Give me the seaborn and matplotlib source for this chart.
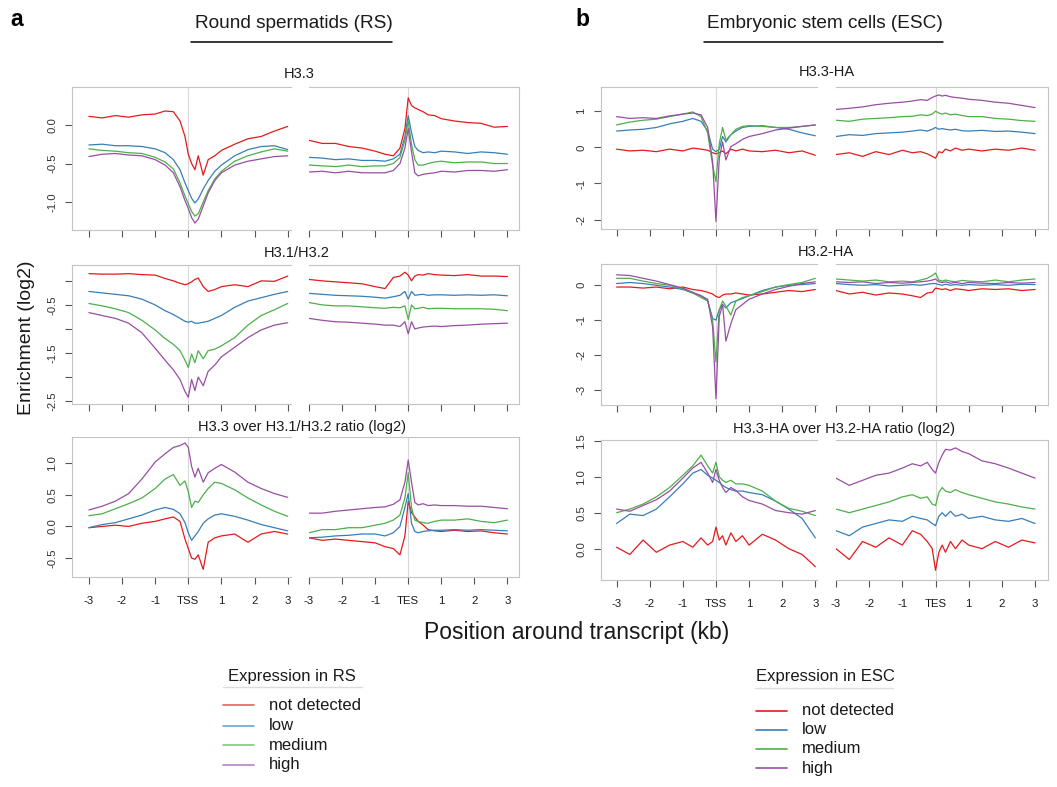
import matplotlib
matplotlib.use("Agg")
import matplotlib.pyplot as plt
from matplotlib.lines import Line2D
import pandas as pd
import seaborn as sns

# ---------------- data (log2 enrichment) ----------------
POS = [-3.0, -2.6, -2.2, -1.8, -1.4, -1.0, -0.7, -0.45, -0.25, -0.1, 0.0, 0.1,
       0.2, 0.3, 0.45, 0.6, 0.8, 1.0, 1.4, 1.8, 2.2, 2.6, 3.0]
GROUPS = ["not detected", "low", "medium", "high"]
COLORS = ["#E41A1C", "#377EB8", "#4DAF4A", "#984EA3"]
TSS_LABELS = ["-3", "-2", "-1", "TSS", "1", "2", "3"]
TES_LABELS = ["-3", "-2", "-1", "TES", "1", "2", "3"]

RS_H33_TSS = {
    "not detected": [0.11, 0.09, 0.12, 0.10, 0.13, 0.14, 0.18, 0.17, 0.05, -0.15, -0.38, -0.50, -0.58, -0.40, -0.65, -0.45, -0.40, -0.33, -0.25, -0.18, -0.15, -0.08, -0.02],
    "low": [-0.26, -0.25, -0.27, -0.27, -0.28, -0.31, -0.36, -0.45, -0.58, -0.75, -0.85, -0.95, -1.01, -0.96, -0.83, -0.72, -0.60, -0.52, -0.40, -0.32, -0.28, -0.27, -0.32],
    "medium": [-0.31, -0.33, -0.34, -0.36, -0.37, -0.42, -0.48, -0.57, -0.75, -0.92, -1.02, -1.12, -1.18, -1.15, -1.00, -0.85, -0.70, -0.60, -0.47, -0.40, -0.35, -0.31, -0.34],
    "high": [-0.41, -0.38, -0.37, -0.39, -0.40, -0.45, -0.52, -0.62, -0.80, -0.98, -1.08, -1.20, -1.27, -1.22, -1.05, -0.88, -0.72, -0.62, -0.52, -0.47, -0.44, -0.41, -0.40],
}
RS_H33_TES = {
    "not detected": [-0.20, -0.24, -0.24, -0.28, -0.30, -0.34, -0.38, -0.40, -0.30, -0.05, 0.35, 0.25, 0.22, 0.20, 0.17, 0.13, 0.12, 0.08, 0.05, 0.03, 0.02, -0.03, -0.02],
    "low": [-0.42, -0.43, -0.45, -0.44, -0.46, -0.46, -0.47, -0.44, -0.38, -0.15, 0.12, -0.10, -0.28, -0.33, -0.36, -0.35, -0.36, -0.34, -0.35, -0.37, -0.35, -0.36, -0.38],
    "medium": [-0.52, -0.53, -0.54, -0.52, -0.54, -0.53, -0.53, -0.50, -0.42, -0.20, 0.05, -0.25, -0.45, -0.52, -0.52, -0.50, -0.48, -0.47, -0.49, -0.48, -0.48, -0.50, -0.50],
    "high": [-0.61, -0.60, -0.62, -0.60, -0.62, -0.62, -0.62, -0.59, -0.50, -0.30, -0.05, -0.35, -0.62, -0.66, -0.64, -0.63, -0.62, -0.60, -0.61, -0.59, -0.59, -0.60, -0.58],
}
RS_H312_TSS = {
    "not detected": [0.15, 0.14, 0.14, 0.15, 0.13, 0.12, 0.05, 0.00, -0.05, -0.08, -0.06, -0.02, 0.03, 0.06, -0.12, -0.22, -0.18, -0.12, -0.08, -0.12, 0.00, -0.01, 0.10],
    "low": [-0.22, -0.25, -0.28, -0.31, -0.38, -0.50, -0.62, -0.70, -0.78, -0.84, -0.86, -0.84, -0.88, -0.88, -0.86, -0.84, -0.78, -0.72, -0.55, -0.42, -0.35, -0.28, -0.22],
    "medium": [-0.47, -0.52, -0.58, -0.66, -0.82, -1.02, -1.20, -1.32, -1.45, -1.65, -1.80, -1.52, -1.70, -1.45, -1.62, -1.45, -1.42, -1.35, -1.18, -0.92, -0.72, -0.60, -0.47],
    "high": [-0.66, -0.72, -0.78, -0.88, -1.08, -1.40, -1.65, -1.85, -2.05, -2.30, -2.42, -2.05, -2.28, -2.00, -2.18, -1.88, -1.75, -1.58, -1.38, -1.18, -1.02, -0.92, -0.87],
}
RS_H312_TES = {
    "not detected": [0.03, 0.00, -0.02, -0.04, -0.06, -0.12, -0.16, 0.07, 0.10, 0.18, 0.12, 0.00, 0.10, 0.13, 0.12, 0.15, 0.13, 0.12, 0.11, 0.13, 0.10, 0.10, 0.09],
    "low": [-0.26, -0.28, -0.30, -0.31, -0.32, -0.34, -0.36, -0.33, -0.30, -0.22, -0.38, -0.22, -0.30, -0.29, -0.28, -0.30, -0.29, -0.29, -0.30, -0.29, -0.30, -0.29, -0.31],
    "medium": [-0.45, -0.50, -0.52, -0.52, -0.54, -0.56, -0.57, -0.55, -0.56, -0.52, -0.80, -0.50, -0.58, -0.57, -0.55, -0.58, -0.57, -0.57, -0.58, -0.58, -0.58, -0.59, -0.62],
    "high": [-0.78, -0.82, -0.85, -0.86, -0.88, -0.90, -0.92, -0.92, -0.95, -0.85, -1.10, -0.85, -1.00, -0.98, -0.96, -0.95, -0.94, -0.95, -0.93, -0.92, -0.90, -0.89, -0.88],
}
RS_RATIO_TSS = {
    "not detected": [-0.02, 0.00, 0.02, 0.00, 0.05, 0.08, 0.12, 0.15, 0.08, -0.20, -0.35, -0.50, -0.52, -0.45, -0.68, -0.25, -0.18, -0.15, -0.12, -0.25, -0.12, -0.08, -0.12],
    "low": [-0.02, 0.03, 0.06, 0.12, 0.18, 0.26, 0.30, 0.27, 0.20, 0.06, -0.10, -0.22, -0.15, -0.08, 0.05, 0.12, 0.18, 0.20, 0.16, 0.10, 0.03, -0.02, -0.07],
    "medium": [0.17, 0.20, 0.28, 0.36, 0.45, 0.60, 0.75, 0.82, 0.65, 0.72, 0.55, 0.30, 0.40, 0.38, 0.50, 0.60, 0.70, 0.68, 0.58, 0.45, 0.34, 0.24, 0.16],
    "high": [0.26, 0.32, 0.40, 0.52, 0.75, 1.02, 1.15, 1.25, 1.28, 1.32, 1.25, 0.95, 0.78, 0.92, 0.70, 0.85, 0.92, 0.98, 0.86, 0.70, 0.60, 0.52, 0.46],
}
RS_RATIO_TES = {
    "not detected": [-0.18, -0.22, -0.20, -0.22, -0.24, -0.26, -0.32, -0.35, -0.45, -0.15, 0.40, 0.22, 0.15, 0.08, 0.02, -0.05, -0.07, -0.08, -0.06, -0.08, -0.07, -0.10, -0.12],
    "low": [-0.18, -0.17, -0.15, -0.14, -0.12, -0.12, -0.15, -0.10, 0.00, 0.30, 0.52, 0.05, -0.08, -0.10, -0.08, -0.07, -0.06, -0.06, -0.05, -0.06, -0.05, -0.06, -0.07],
    "medium": [-0.10, -0.05, -0.05, -0.02, -0.02, 0.02, 0.05, 0.10, 0.18, 0.45, 0.85, 0.30, 0.10, 0.08, 0.06, 0.05, 0.08, 0.10, 0.10, 0.12, 0.08, 0.06, 0.10],
    "high": [0.21, 0.21, 0.24, 0.26, 0.28, 0.30, 0.31, 0.35, 0.42, 0.70, 1.05, 0.70, 0.38, 0.34, 0.36, 0.33, 0.34, 0.33, 0.33, 0.32, 0.32, 0.30, 0.28],
}
ESC_H33_TSS = {
    "not detected": [-0.05, -0.10, -0.08, -0.12, -0.05, -0.10, -0.02, -0.05, -0.08, -0.15, -0.18, -0.15, -0.10, -0.18, -0.05, -0.10, -0.05, -0.10, -0.12, -0.08, -0.15, -0.10, -0.22],
    "low": [0.45, 0.48, 0.50, 0.55, 0.65, 0.72, 0.80, 0.72, 0.45, -0.05, -0.12, -0.05, 0.30, 0.15, 0.35, 0.45, 0.55, 0.58, 0.60, 0.55, 0.50, 0.40, 0.32],
    "medium": [0.62, 0.70, 0.75, 0.78, 0.85, 0.92, 0.98, 0.85, 0.40, -0.50, -0.95, 0.10, 0.55, 0.20, 0.35, 0.50, 0.58, 0.60, 0.58, 0.55, 0.55, 0.58, 0.62],
    "high": [0.85, 0.80, 0.82, 0.80, 0.87, 0.92, 0.95, 0.90, 0.55, -0.40, -2.05, -0.30, 0.15, -0.35, 0.02, 0.10, 0.22, 0.30, 0.38, 0.48, 0.53, 0.58, 0.62],
}
ESC_H33_TES = {
    "not detected": [-0.20, -0.15, -0.25, -0.12, -0.20, -0.08, -0.15, -0.12, -0.18, -0.25, -0.30, -0.12, -0.15, -0.05, -0.10, -0.02, -0.08, -0.05, -0.10, -0.05, -0.08, -0.02, -0.08],
    "low": [0.30, 0.35, 0.33, 0.38, 0.40, 0.42, 0.45, 0.48, 0.45, 0.50, 0.55, 0.50, 0.52, 0.50, 0.48, 0.50, 0.46, 0.45, 0.47, 0.44, 0.45, 0.42, 0.38],
    "medium": [0.75, 0.72, 0.78, 0.80, 0.82, 0.85, 0.86, 0.90, 0.88, 0.92, 1.00, 0.95, 0.92, 0.95, 0.90, 0.92, 0.88, 0.85, 0.85, 0.80, 0.78, 0.74, 0.72],
    "high": [1.05, 1.08, 1.12, 1.18, 1.22, 1.25, 1.28, 1.32, 1.30, 1.38, 1.42, 1.45, 1.42, 1.44, 1.40, 1.38, 1.36, 1.33, 1.30, 1.25, 1.22, 1.16, 1.10],
}
ESC_H32_TSS = {
    "not detected": [-0.05, -0.05, -0.08, -0.05, -0.10, -0.05, -0.12, -0.15, -0.20, -0.25, -0.32, -0.35, -0.28, -0.25, -0.25, -0.22, -0.25, -0.28, -0.25, -0.20, -0.15, -0.18, -0.12],
    "low": [0.05, 0.08, 0.05, 0.00, -0.05, -0.12, -0.22, -0.30, -0.45, -0.95, -1.00, -0.70, -0.55, -0.65, -0.50, -0.45, -0.38, -0.30, -0.15, -0.05, 0.00, 0.02, 0.05],
    "medium": [0.20, 0.20, 0.12, 0.05, 0.00, -0.10, -0.22, -0.35, -0.45, -1.00, -2.20, -0.70, -0.45, -0.60, -0.85, -0.45, -0.35, -0.30, -0.18, -0.05, 0.02, 0.08, 0.20],
    "high": [0.30, 0.28, 0.20, 0.12, 0.02, -0.08, -0.20, -0.30, -0.40, -1.20, -3.25, -0.90, -0.55, -1.60, -1.10, -0.70, -0.55, -0.40, -0.25, -0.12, -0.03, 0.05, 0.10],
}
ESC_H32_TES = {
    "not detected": [-0.15, -0.25, -0.20, -0.28, -0.22, -0.25, -0.30, -0.35, -0.22, -0.20, -0.08, -0.10, -0.12, -0.10, -0.15, -0.10, -0.12, -0.15, -0.10, -0.12, -0.10, -0.15, -0.12],
    "low": [0.05, 0.02, 0.00, 0.02, -0.02, 0.00, 0.02, 0.00, 0.03, 0.05, 0.05, 0.02, 0.00, 0.03, 0.00, 0.02, 0.00, 0.02, 0.00, 0.02, 0.00, 0.03, 0.02],
    "medium": [0.18, 0.15, 0.12, 0.15, 0.10, 0.12, 0.10, 0.15, 0.20, 0.28, 0.35, 0.15, 0.12, 0.15, 0.12, 0.10, 0.14, 0.12, 0.10, 0.15, 0.10, 0.15, 0.18],
    "high": [0.10, 0.08, 0.10, 0.05, 0.08, 0.06, 0.08, 0.10, 0.12, 0.15, 0.18, 0.10, 0.08, 0.10, 0.06, 0.08, 0.05, 0.08, 0.06, 0.05, 0.08, 0.06, 0.08],
}
ESC_RATIO_TSS = {
    "not detected": [0.02, -0.08, 0.12, -0.05, 0.05, 0.10, 0.02, 0.15, 0.05, 0.10, 0.30, 0.12, 0.18, 0.05, 0.22, 0.10, 0.18, 0.05, 0.20, 0.12, 0.00, -0.08, -0.25],
    "low": [0.35, 0.48, 0.46, 0.55, 0.72, 0.90, 1.05, 1.10, 1.02, 0.98, 0.95, 0.92, 0.88, 0.85, 0.82, 0.80, 0.80, 0.78, 0.75, 0.66, 0.55, 0.42, 0.15],
    "medium": [0.50, 0.55, 0.62, 0.72, 0.85, 1.02, 1.15, 1.30, 1.15, 1.05, 1.20, 1.00, 0.95, 0.92, 0.95, 0.90, 0.90, 0.88, 0.80, 0.66, 0.56, 0.52, 0.46],
    "high": [0.55, 0.52, 0.60, 0.68, 0.80, 0.98, 1.12, 1.20, 1.05, 0.92, 1.10, 0.95, 0.85, 0.78, 0.85, 0.81, 0.72, 0.67, 0.62, 0.53, 0.50, 0.48, 0.53],
}
ESC_RATIO_TES = {
    "not detected": [0.00, -0.15, 0.10, 0.02, 0.15, 0.05, 0.25, 0.20, 0.10, 0.00, -0.30, -0.05, 0.05, -0.05, 0.10, 0.00, 0.12, 0.05, 0.00, 0.10, 0.02, 0.12, 0.08],
    "low": [0.25, 0.18, 0.30, 0.35, 0.40, 0.38, 0.45, 0.42, 0.40, 0.35, 0.32, 0.45, 0.50, 0.45, 0.52, 0.45, 0.48, 0.42, 0.45, 0.40, 0.38, 0.42, 0.35],
    "medium": [0.55, 0.50, 0.55, 0.60, 0.65, 0.72, 0.75, 0.70, 0.72, 0.62, 0.60, 0.78, 0.85, 0.80, 0.78, 0.82, 0.78, 0.75, 0.70, 0.65, 0.62, 0.58, 0.55],
    "high": [0.98, 0.88, 0.95, 1.02, 1.05, 1.12, 1.18, 1.15, 1.20, 1.10, 1.05, 1.20, 1.30, 1.38, 1.37, 1.40, 1.35, 1.32, 1.22, 1.18, 1.12, 1.05, 0.98],
}

# ---------------- style ----------------
sns.set_theme(style="white")
plt.rcParams["font.family"] = ["Liberation Sans", "DejaVu Sans"]
plt.rcParams["axes.unicode_minus"] = False

W, H = 1057, 787
fig = plt.figure(figsize=(W / 100, H / 100), dpi=100)
fig.patch.set_facecolor("white")

BOX = "#c4c4c4"
TICK = "#555555"
TXT = "#1a1a1a"


def fx(px):
    return px / W


def fy(py):
    return 1 - py / H


def add_ax(x0, x1, y0, y1):
    return fig.add_axes([fx(x0), fy(y1), (x1 - x0) / W, (y1 - y0) / H])


def to_long(d):
    rows = []
    for g in GROUPS:
        for x, v in zip(POS, d[g]):
            rows.append((x, v, g))
    return pd.DataFrame(rows, columns=["pos", "value", "group"])


def draw(ax, d, xlim, ylim, side, bottom, yticks=None, ylabels=None):
    df = to_long(d)
    ax.axvline(0, color="#d8d8d8", lw=0.8, zorder=0)
    sns.lineplot(data=df, x="pos", y="value", hue="group", hue_order=GROUPS,
                 palette=COLORS, legend=False, ax=ax, lw=0.9,
                 estimator=None, errorbar=None)
    ax.set_xlabel("")
    ax.set_ylabel("")
    ax.set_xlim(*xlim)
    ax.set_ylim(*ylim)
    ax.set_facecolor("white")
    for s in ax.spines.values():
        s.set_color(BOX)
        s.set_linewidth(0.8)
    if side == "tss":
        ax.spines["right"].set_visible(False)
    else:
        ax.spines["left"].set_visible(False)
    ax.set_xticks([-3, -2, -1, 0, 1, 2, 3])
    if bottom:
        ax.set_xticklabels(TSS_LABELS if side == "tss" else TES_LABELS,
                           fontsize=8.2, color=TXT)
    else:
        ax.set_xticklabels([])
    ax.tick_params(axis="x", bottom=True, length=5.2, width=0.8, color=TICK,
                   direction="out", pad=8.5)
    if side == "tss":
        ax.set_yticks(yticks)
        ax.set_yticklabels(ylabels, rotation=90, va="center", fontsize=8.2,
                           color="#333333")
        ax.tick_params(axis="y", left=True, length=5.2, width=0.8, color=TICK,
                       direction="out", pad=5.5)
    else:
        ax.set_yticks([])
    ax.grid(False)


# panel geometry (pixels)
LX_TSS, LX_TES = (72, 291), (309, 519)
RX_TSS, RX_TES = (601, 817), (836, 1048)
LROWS = [(87, 230), (265, 404), (437, 577)]
RROWS = [(87, 229), (264, 405), (440, 580)]
L_XLIM_TSS, L_XLIM_TES = (-3.51, 3.10), (-3.0, 3.35)
R_XLIM_TSS, R_XLIM_TES = (-3.47, 3.05), (-3.0, 3.39)

left_panels = [
    (RS_H33_TSS, RS_H33_TES, (-1.36, 0.49), [0.0, -0.5, -1.0], ["0.0", "-0.5", "-1.0"]),
    (RS_H312_TSS, RS_H312_TES, (-2.56, 0.33), [0.0, -0.5, -1.0, -1.5, -2.0, -2.5],
     ["", "-0.5", "", "-1.5", "", "-2.5"]),
    (RS_RATIO_TSS, RS_RATIO_TES, (-0.80, 1.415), [1.0, 0.5, 0.0, -0.5], ["1.0", "0.5", "0.0", "-0.5"]),
]
right_panels = [
    (ESC_H33_TSS, ESC_H33_TES, (-2.26, 1.67), [1, 0, -1, -2], ["1", "0", "-1", "-2"]),
    (ESC_H32_TSS, ESC_H32_TES, (-3.43, 0.61), [0, -1, -2, -3], ["0", "-1", "-2", "-3"]),
    (ESC_RATIO_TSS, ESC_RATIO_TES, (-0.435, 1.51), [1.5, 1.0, 0.5, 0.0], ["1.5", "1.0", "0.5", "0.0"]),
]

for i, (dt, de, yl, yt, ylab) in enumerate(left_panels):
    y0, y1 = LROWS[i]
    a1 = add_ax(LX_TSS[0], LX_TSS[1], y0, y1)
    draw(a1, dt, L_XLIM_TSS, yl, "tss", i == 2, yt, ylab)
    a2 = add_ax(LX_TES[0], LX_TES[1], y0, y1)
    draw(a2, de, L_XLIM_TES, yl, "tes", i == 2)

for i, (dt, de, yl, yt, ylab) in enumerate(right_panels):
    y0, y1 = RROWS[i]
    a1 = add_ax(RX_TSS[0], RX_TSS[1], y0, y1)
    draw(a1, dt, R_XLIM_TSS, yl, "tss", i == 2, yt, ylab)
    a2 = add_ax(RX_TES[0], RX_TES[1], y0, y1)
    draw(a2, de, R_XLIM_TES, yl, "tes", i == 2)

# panel titles
titles = [("H3.3", 299, 73.5), ("H3.1/H3.2", 297, 253.5),
          ("H3.3 over H3.1/H3.2 ratio (log2)", 302, 427),
          ("H3.3-HA", 827, 72.5), ("H3.2-HA", 826, 252),
          ("H3.3-HA over H3.2-HA ratio (log2)", 844, 428.5)]
for t, x, y in titles:
    fig.text(fx(x), fy(y), t, ha="center", va="center", fontsize=10.5, color=TXT)

# section headers
fig.text(fx(17), fy(19), "a", ha="center", va="center", fontsize=16.5,
         fontweight="bold", color="black")
fig.text(fx(582), fy(19), "b", ha="center", va="center", fontsize=16.5,
         fontweight="bold", color="black")
fig.text(fx(294), fy(23.5), "Round spermatids (RS)", ha="center", va="center",
         fontsize=13.7, color=TXT)
fig.text(fx(825), fy(23.5), "Embryonic stem cells (ESC)", ha="center",
         va="center", fontsize=13.7, color=TXT)
fig.add_artist(Line2D([fx(191), fx(392)], [fy(41.5), fy(41.5)], color="black", lw=1.1))
fig.add_artist(Line2D([fx(704), fx(943)], [fy(42), fy(42)], color="black", lw=1.1))

# axis labels
fig.text(fx(27), fy(338), "Enrichment (log2)", rotation=90, ha="center",
         va="center", fontsize=14, color=TXT)
fig.text(fx(577), fy(632), "Position around transcript (kb)", ha="center",
         va="center", fontsize=16.5, color=TXT)


# legends
def legend(title, tx, ty, ux0, ux1, uy, lx0, lx1, textx, ys, alpha):
    fig.text(fx(tx), fy(ty), title, ha="left", va="center", fontsize=12, color=TXT)
    fig.add_artist(Line2D([fx(ux0), fx(ux1)], [fy(uy), fy(uy)], color="#dcdcdc", lw=1.0))
    for g, c, y in zip(GROUPS, COLORS, ys):
        fig.add_artist(Line2D([fx(lx0), fx(lx1)], [fy(y), fy(y)], color=c,
                              lw=1.2, alpha=alpha))
        fig.text(fx(textx), fy(y), g, ha="left", va="center", fontsize=12, color=TXT)


legend("Expression in RS", 228, 676, 223, 362, 686.5, 223, 254, 269,
       [705, 725.5, 745, 764.5], 0.7)
legend("Expression in ESC", 756, 677, 755, 893, 688, 756, 787, 802,
       [710.5, 729.5, 748.5, 768], 1.0)

fig.savefig("out.png", dpi=100)
